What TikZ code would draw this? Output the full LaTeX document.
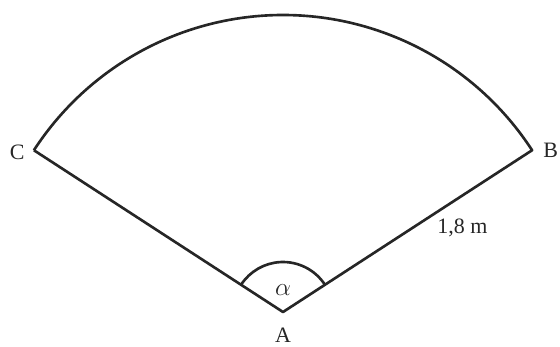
\documentclass[tikz,border=0pt]{standalone}
\usepackage{fontspec}
\setmainfont{Liberation Serif}
\usepackage{tikz}
\usetikzlibrary{positioning,calc}

\begin{document}
\begin{tikzpicture}[
    side/.style={draw=black!85, line width=1.5pt, line join=round},
    lbl/.style={inner sep=0pt, font=\fontsize{12.5}{14}\selectfont, text=black!85}
]
    \useasboundingbox (0,0) rectangle (11.2,6.92);

    \coordinate (A) at (5.66,0.68);
    \coordinate (B) at ($(A)+(33:5.94)$);
    \coordinate (C) at ($(A)+(147:5.94)$);
    \coordinate (a1) at ($(A)+(33:1)$);

    \draw [side] (C) -- (A) -- (B) arc[start angle=33, end angle=147, radius=5.94];
    \draw [side] (a1) arc[start angle=33, end angle=147, radius=1];

    \node [lbl, left=0.18cm of C, yshift=-0.05cm] (labC) {C};
    \node [lbl, right=0.22cm of B] (labB) {B};
    \node [lbl, below=0.32cm of A] (labA) {A};
    \node [lbl, font=\fontsize{15}{16}\selectfont] (alpha) at ($(A)+(0,0.44)$) {$\alpha$};
    \node [lbl] (len) at ($(A)!0.72!(B)+(0,-0.64)$) {1,8 m};
\end{tikzpicture}
\end{document}
